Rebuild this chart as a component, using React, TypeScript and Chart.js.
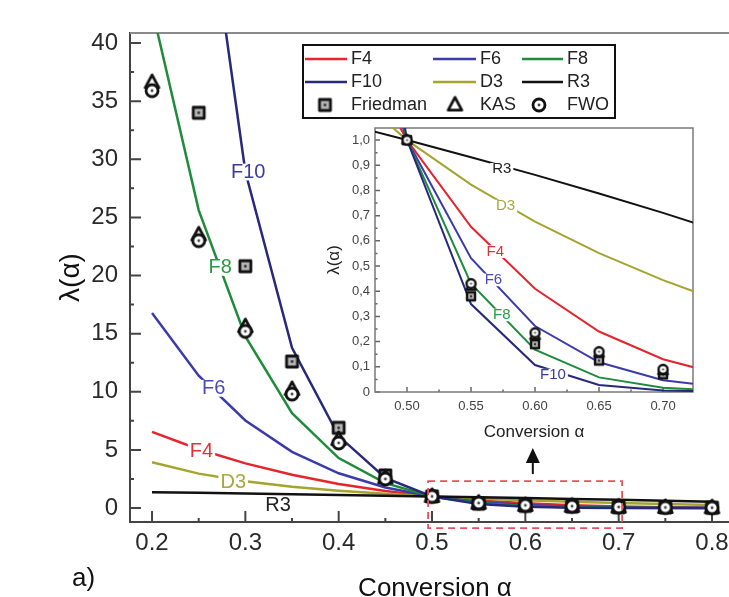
import React, { useEffect, useRef } from 'react';
import { Chart, registerables } from 'chart.js';

Chart.register(...registerables);

const FONT = '"Liberation Sans", Arial, Helvetica, sans-serif';

// ---- data ----
const alpha = [0.2, 0.25, 0.3, 0.35, 0.4, 0.45, 0.5, 0.55, 0.6, 0.65, 0.7, 0.75, 0.8];
const F4 = [6.55, 5.06, 3.84, 2.86, 2.07, 1.46, 1.0, 0.656, 0.41, 0.24, 0.13, 0.063, 0.026];
const F6 = [16.78, 11.39, 7.53, 4.83, 2.99, 1.77, 1.0, 0.531, 0.262, 0.118, 0.047, 0.016, 0.004];
const F8 = [42.95, 25.63, 14.76, 8.16, 4.3, 2.14, 1.0, 0.43, 0.168, 0.058, 0.017, 0.004, 0.001];
const F10 = [109.9, 57.67, 28.93, 13.79, 6.19, 2.59, 1.0, 0.349, 0.107, 0.028, 0.006, 0.001, 0.0001];
const D3 = [3.94, 2.96, 2.3, 1.84, 1.49, 1.22, 1.0, 0.823, 0.676, 0.551, 0.444, 0.351, 0.27];
const R3 = [1.368, 1.31, 1.252, 1.191, 1.129, 1.066, 1.0, 0.932, 0.862, 0.788, 0.711, 0.63, 0.543];

const friedman = [null, 34.0, 20.8, 12.6, 6.9, 2.8, 1.0, 0.38, 0.19, 0.125, 0.07, 0.05, 0.03];
const kas = [36.6, 23.5, 15.6, 10.2, 5.9, 2.6, 1.0, 0.42, 0.225, 0.155, 0.085, 0.05, 0.03];
const fwo = [35.9, 23.0, 15.2, 9.8, 5.6, 2.5, 1.0, 0.43, 0.235, 0.16, 0.09, 0.05, 0.03];

const curveNames = ['F4', 'F6', 'F8', 'F10', 'D3', 'R3'];
const curveValues = [F4, F6, F8, F10, D3, R3];

// ---- ticks ----
const mainXTicks = [0.2, 0.3, 0.4, 0.5, 0.6, 0.7, 0.8];
const mainXLabels = ['0.2', '0.3', '0.4', '0.5', '0.6', '0.7', '0.8'];
const mainXMinor = [0.25, 0.35, 0.45, 0.55, 0.65, 0.75];
const mainYTicks = [0, 5, 10, 15, 20, 25, 30, 35, 40];
const mainYLabels = ['0', '5', '10', '15', '20', '25', '30', '35', '40'];
const mainYMinor = [2.5, 7.5, 12.5, 17.5, 22.5, 27.5, 32.5, 37.5];

const insetXTicks = [0.5, 0.55, 0.6, 0.65, 0.7];
const insetXLabels = ['0.50', '0.55', '0.60', '0.65', '0.70'];
const insetXMinor = [0.525, 0.575, 0.625, 0.675];
const insetYTicks = [0, 0.1, 0.2, 0.3, 0.4, 0.5, 0.6, 0.7, 0.8, 0.9, 1.0];
const insetYLabels = ['0', '0,1', '0,2', '0,3', '0,4', '0,5', '0,6', '0,7', '0,8', '0,9', '1,0'];
const insetYMinor = [0.05, 0.15, 0.25, 0.35, 0.45, 0.55, 0.65, 0.75, 0.85, 0.95];

// ---- curve annotations ----
const mainTagText = ['F10', 'F8', 'F6', 'F4', 'D3', 'R3'];
const mainTagX = [0.303, 0.273, 0.266, 0.253, 0.287, 0.335];
const mainTagY = [28.9, 20.7, 10.3, 4.85, 2.18, 0.26];
const insetTagText = ['R3', 'D3', 'F4', 'F6', 'F8', 'F10'];
const insetTagX = [0.574, 0.577, 0.569, 0.5675, 0.574, 0.614];
const insetTagY = [0.884, 0.738, 0.557, 0.445, 0.306, 0.067];

const COLORS: Record<string, string> = {
  F4: '#e3262d',
  F6: '#3b3bab',
  F8: '#1f8c3c',
  F10: '#28287c',
  D3: '#a4a42e',
  R3: '#111111',
};
const TAG_COLORS: Record<string, string> = {
  F4: '#e0303a',
  F6: '#4a4ab8',
  F8: '#2a9a45',
  F10: '#3a3aa2',
  D3: '#a8a83a',
  R3: '#222222',
};
const LINE_ORDER: Record<string, number> = { F4: 8, D3: 7, F6: 6, F8: 5, F10: 4, R3: 3 };

type Kind = 'square' | 'triangle' | 'circle';

function makeMarker(kind: Kind, size: number, lw: number): HTMLCanvasElement {
  const pad = Math.ceil(lw) + 2;
  const S = Math.ceil(size + pad * 2);
  const c = document.createElement('canvas');
  c.width = S;
  c.height = S;
  const g = c.getContext('2d')!;
  const m = S / 2;
  const r = size / 2;
  g.lineWidth = lw;
  g.strokeStyle = '#111';
  g.lineJoin = 'round';
  if (kind === 'square') {
    g.fillStyle = '#b4b4b4';
    g.fillRect(m - r, m - r, size, size);
    g.strokeRect(m - r, m - r, size, size);
    g.fillStyle = '#333';
    g.beginPath();
    g.arc(m, m, Math.max(1.2, size * 0.13), 0, Math.PI * 2);
    g.fill();
  } else if (kind === 'triangle') {
    const h = size * 0.95;
    g.fillStyle = '#fff';
    g.beginPath();
    g.moveTo(m, m - h * 0.62);
    g.lineTo(m + r * 1.05, m + h * 0.42);
    g.lineTo(m - r * 1.05, m + h * 0.42);
    g.closePath();
    g.fill();
    g.stroke();
  } else {
    g.fillStyle = '#fff';
    g.beginPath();
    g.arc(m, m, r, 0, Math.PI * 2);
    g.fill();
    g.stroke();
    g.fillStyle = '#444';
    g.beginPath();
    g.arc(m, m, Math.max(1.1, size * 0.12), 0, Math.PI * 2);
    g.fill();
  }
  return c;
}

function pts(values: (number | null)[]) {
  const out: { x: number; y: number }[] = [];
  values.forEach((v, i) => {
    if (v !== null) out.push({ x: alpha[i], y: v });
  });
  return out;
}

function buildDatasets(markers: Record<Kind, HTMLCanvasElement>, lineWidth: number, radius: number) {
  const ds: any[] = [];
  ds.push({ label: 'FWO', data: pts(fwo), showLine: false, pointStyle: markers.circle, pointRadius: radius, borderWidth: 0, order: 0 });
  ds.push({ label: 'KAS', data: pts(kas), showLine: false, pointStyle: markers.triangle, pointRadius: radius, borderWidth: 0, order: 1 });
  ds.push({ label: 'Friedman', data: pts(friedman), showLine: false, pointStyle: markers.square, pointRadius: radius, borderWidth: 0, order: 2 });
  curveNames.forEach((name, i) => {
    ds.push({
      label: name,
      data: pts(curveValues[i]),
      borderColor: COLORS[name],
      backgroundColor: COLORS[name],
      borderWidth: lineWidth,
      pointRadius: 0,
      tension: 0,
      fill: false,
      order: LINE_ORDER[name],
    });
  });
  return ds;
}

function drawInTicks(chart: any, o: any) {
  const { ctx, chartArea } = chart;
  const { left, bottom } = chartArea;
  const x = chart.scales.x;
  const y = chart.scales.y;
  ctx.save();
  ctx.strokeStyle = o.color;
  ctx.lineWidth = o.width;
  ctx.beginPath();
  for (const v of o.xMajor) {
    const p = x.getPixelForValue(v);
    ctx.moveTo(p, bottom);
    ctx.lineTo(p, bottom - o.major);
  }
  for (const v of o.xMinor) {
    const p = x.getPixelForValue(v);
    ctx.moveTo(p, bottom);
    ctx.lineTo(p, bottom - o.minor);
  }
  for (const v of o.yMajor) {
    const p = y.getPixelForValue(v);
    ctx.moveTo(left, p);
    ctx.lineTo(left + o.major, p);
  }
  for (const v of o.yMinor) {
    const p = y.getPixelForValue(v);
    ctx.moveTo(left, p);
    ctx.lineTo(left + o.minor, p);
  }
  ctx.stroke();
  ctx.restore();
}

function drawTag(ctx: CanvasRenderingContext2D, text: string, px: number, py: number, color: string, size: number) {
  ctx.save();
  ctx.font = `${size}px ${FONT}`;
  const w = ctx.measureText(text).width;
  ctx.fillStyle = '#fff';
  ctx.fillRect(px - w / 2 - 2, py - size * 0.42, w + 4, size * 0.84);
  ctx.fillStyle = color;
  ctx.textAlign = 'center';
  ctx.textBaseline = 'middle';
  ctx.fillText(text, px, py);
  ctx.restore();
}

export default function App() {
  const mainRef = useRef<HTMLCanvasElement>(null);
  const insetRef = useRef<HTMLCanvasElement>(null);

  useEffect(() => {
    const mainMarkers = {
      square: makeMarker('square', 11, 2.8),
      triangle: makeMarker('triangle', 13, 2.8),
      circle: makeMarker('circle', 12, 2.8),
    };
    const insetMarkers = {
      square: makeMarker('square', 8, 2.4),
      triangle: makeMarker('triangle', 9, 2.4),
      circle: makeMarker('circle', 9, 2.4),
    };

    const mainDecor = {
      id: 'mainDecor',
      beforeDatasetsDraw(chart: any) {
        const { ctx, chartArea } = chart;
        drawInTicks(chart, {
          color: '#444', width: 2, major: 11, minor: 4,
          xMajor: mainXTicks, xMinor: mainXMinor, yMajor: mainYTicks, yMinor: mainYMinor,
        });
        ctx.save();
        ctx.strokeStyle = '#8a8a8a';
        ctx.lineWidth = 2;
        ctx.beginPath();
        ctx.moveTo(chartArea.left, chartArea.top);
        ctx.lineTo(chart.width, chartArea.top);
        ctx.stroke();
        ctx.restore();
      },
      afterDatasetsDraw(chart: any) {
        const { ctx, chartArea } = chart;
        const x = chart.scales.x;
        const y = chart.scales.y;
        // curve tags
        mainTagText.forEach((t, i) => {
          drawTag(ctx, t, x.getPixelForValue(mainTagX[i]), y.getPixelForValue(mainTagY[i]), TAG_COLORS[t], 20);
        });
        // dashed zoom box
        ctx.save();
        ctx.strokeStyle = '#e8505c';
        ctx.lineWidth = 1.8;
        ctx.setLineDash([7, 5]);
        const x0 = x.getPixelForValue(0.4958);
        const x1 = x.getPixelForValue(0.7037);
        const y0 = y.getPixelForValue(2.32);
        const y1 = y.getPixelForValue(-1.72);
        ctx.strokeRect(x0, y0, x1 - x0, y1 - y0);
        ctx.restore();
        // arrow
        ctx.save();
        const ax = x.getPixelForValue(0.608);
        const aBottom = y.getPixelForValue(2.92);
        const aBase = y.getPixelForValue(3.87);
        const aTip = y.getPixelForValue(5.16);
        ctx.strokeStyle = '#111';
        ctx.fillStyle = '#111';
        ctx.lineWidth = 2;
        ctx.beginPath();
        ctx.moveTo(ax, aBottom);
        ctx.lineTo(ax, aBase);
        ctx.stroke();
        ctx.beginPath();
        ctx.moveTo(ax, aTip);
        ctx.lineTo(ax + 7, aBase);
        ctx.lineTo(ax - 7, aBase);
        ctx.closePath();
        ctx.fill();
        ctx.restore();
        // legend
        ctx.save();
        ctx.lineWidth = 2;
        ctx.strokeStyle = '#111';
        ctx.fillStyle = '#fff';
        ctx.fillRect(303, 45, 312, 73);
        ctx.strokeRect(303, 45, 312, 73);
        const rows = [59, 82];
        const lineCols = [[305, 347, 351], [433, 476, 480], [522, 563, 567]];
        const grid = [['F4', 'F6', 'F8'], ['F10', 'D3', 'R3']];
        ctx.font = `18px ${FONT}`;
        ctx.textBaseline = 'middle';
        ctx.textAlign = 'left';
        grid.forEach((row, ri) => {
          row.forEach((name, ci) => {
            const [l0, l1, tx] = lineCols[ci];
            ctx.strokeStyle = COLORS[name];
            ctx.lineWidth = 2.5;
            ctx.beginPath();
            ctx.moveTo(l0, rows[ri]);
            ctx.lineTo(l1, rows[ri]);
            ctx.stroke();
            ctx.fillStyle = '#222';
            ctx.fillText(name, tx, rows[ri]);
          });
        });
        const mk = [
          [mainMarkers.square, 325, 'Friedman', 351],
          [mainMarkers.triangle, 455, 'KAS', 480],
          [mainMarkers.circle, 539, 'FWO', 567],
        ] as [HTMLCanvasElement, number, string, number][];
        mk.forEach(([img, mx, label, tx]) => {
          ctx.drawImage(img, mx - img.width / 2, 105 - img.height / 2);
          ctx.fillStyle = '#222';
          ctx.fillText(label, tx, 105);
        });
        // panel label
        ctx.font = `26px ${FONT}`;
        ctx.fillStyle = '#111';
        ctx.textAlign = 'left';
        ctx.fillText('a)', chartArea.left - 58, chartArea.bottom + 57);
        ctx.restore();
      },
    };

    const main = new Chart(mainRef.current!, {
      type: 'line',
      data: { datasets: buildDatasets(mainMarkers, 2.5, 6) },
      options: {
        responsive: false,
        animation: false,
        events: [],
        layout: { padding: { top: 33, left: 0, right: 8, bottom: 0 } },
        plugins: { legend: { display: false }, tooltip: { enabled: false } },
        scales: {
          x: {
            type: 'linear',
            min: 0.1764,
            max: 0.83,
            afterBuildTicks: (s: any) => {
              s.ticks = mainXTicks.map((v) => ({ value: v }));
            },
            afterFit: (s: any) => {
              s.height = 98;
            },
            ticks: {
              autoSkip: false,
              maxRotation: 0,
              padding: 7,
              color: '#2a2a2a',
              font: { family: FONT, size: 24 },
              callback: (_v: any, i: number) => mainXLabels[i],
            },
            grid: { display: true, drawOnChartArea: false, drawTicks: false },
            border: { display: true, color: '#444', width: 2 },
            title: {
              display: true,
              text: 'Conversion α',
              color: '#111',
              font: { family: FONT, size: 26 },
              padding: { top: 0, bottom: 16 },
            },
          },
          y: {
            type: 'linear',
            min: -1.2,
            max: 40.86,
            afterBuildTicks: (s: any) => {
              s.ticks = mainYTicks.map((v) => ({ value: v }));
            },
            afterFit: (s: any) => {
              s.width = 130;
            },
            ticks: {
              autoSkip: false,
              padding: 12,
              color: '#2a2a2a',
              font: { family: FONT, size: 24 },
              callback: (_v: any, i: number) => mainYLabels[i],
            },
            grid: { display: true, drawOnChartArea: false, drawTicks: false },
            border: { display: true, color: '#444', width: 2 },
            title: {
              display: true,
              text: 'λ(α)',
              color: '#111',
              font: { family: FONT, size: 28 },
              padding: { top: 54, bottom: 0 },
            },
          },
        },
      } as any,
      plugins: [mainDecor],
    });

    const insetDecor = {
      id: 'insetDecor',
      beforeDraw(chart: any) {
        const { ctx, chartArea } = chart;
        ctx.save();
        ctx.fillStyle = '#fff';
        ctx.fillRect(chartArea.left, chartArea.top, chartArea.right - chartArea.left, chartArea.bottom - chartArea.top);
        ctx.restore();
      },
      beforeDatasetsDraw(chart: any) {
        const { ctx, chartArea } = chart;
        drawInTicks(chart, {
          color: '#666', width: 1.5, major: 5, minor: 2.5,
          xMajor: insetXTicks, xMinor: insetXMinor, yMajor: insetYTicks, yMinor: insetYMinor,
        });
        ctx.save();
        ctx.strokeStyle = '#7a7a7a';
        ctx.lineWidth = 1.5;
        ctx.strokeRect(chartArea.left, chartArea.top, chartArea.right - chartArea.left, chartArea.bottom - chartArea.top);
        ctx.restore();
      },
      afterDatasetsDraw(chart: any) {
        const { ctx } = chart;
        const x = chart.scales.x;
        const y = chart.scales.y;
        insetTagText.forEach((t, i) => {
          drawTag(ctx, t, x.getPixelForValue(insetTagX[i]), y.getPixelForValue(insetTagY[i]), TAG_COLORS[t], 15);
        });
      },
    };

    const inset = new Chart(insetRef.current!, {
      type: 'line',
      data: { datasets: buildDatasets(insetMarkers, 2, 5) },
      options: {
        responsive: false,
        animation: false,
        events: [],
        layout: { padding: { top: 23, left: 0, right: 22, bottom: 0 } },
        plugins: { legend: { display: false }, tooltip: { enabled: false } },
        scales: {
          x: {
            type: 'linear',
            min: 0.475,
            max: 0.7234,
            afterBuildTicks: (s: any) => {
              s.ticks = insetXTicks.map((v) => ({ value: v }));
            },
            afterFit: (s: any) => {
              s.height = 58;
            },
            ticks: {
              autoSkip: false,
              maxRotation: 0,
              padding: 7,
              color: '#444',
              font: { family: FONT, size: 13 },
              callback: (_v: any, i: number) => insetXLabels[i],
            },
            grid: { display: true, drawOnChartArea: false, drawTicks: false },
            border: { display: false },
            title: {
              display: true,
              text: 'Conversion α',
              color: '#222',
              font: { family: FONT, size: 17 },
              padding: { top: 0, bottom: 7 },
            },
          },
          y: {
            type: 'linear',
            min: 0,
            max: 1.048,
            afterBuildTicks: (s: any) => {
              s.ticks = insetYTicks.map((v) => ({ value: v }));
            },
            afterFit: (s: any) => {
              s.width = 60;
            },
            ticks: {
              autoSkip: false,
              padding: 5,
              color: '#444',
              font: { family: FONT, size: 13 },
              callback: (_v: any, i: number) => insetYLabels[i],
            },
            grid: { display: true, drawOnChartArea: false, drawTicks: false },
            border: { display: false },
            title: {
              display: true,
              text: 'λ(α)',
              color: '#222',
              font: { family: FONT, size: 17 },
              padding: { top: 9, bottom: 0 },
            },
          },
        },
      } as any,
      plugins: [insetDecor],
    });

    return () => {
      main.destroy();
      inset.destroy();
    };
  }, []);

  return (
    <div
      style={{
        position: 'fixed',
        left: 0,
        top: 0,
        width: 729,
        height: 597,
        overflow: 'hidden',
        background: '#fff',
      }}
    >
      <canvas ref={mainRef} width={748} height={620} style={{ position: 'absolute', left: 0, top: 0 }} />
      <canvas ref={insetRef} width={400} height={345} style={{ position: 'absolute', left: 315, top: 105 }} />
    </div>
  );
}
